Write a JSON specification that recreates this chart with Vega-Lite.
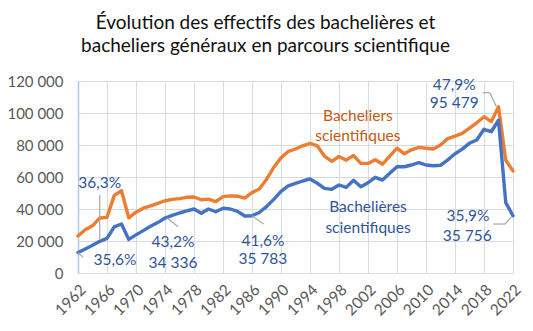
{
  "$schema": "https://vega.github.io/schema/vega-lite/v6.json",
  "autosize": "none",
  "width": 435,
  "height": 192,
  "padding": {"left": 78, "top": 81, "right": 20, "bottom": 58},
  "background": "white",
  "title": {
    "text": ["Évolution des effectifs des bachelières et", "bacheliers généraux en parcours scientifique"],
    "font": "Lato",
    "fontSize": 19,
    "fontWeight": "normal",
    "color": "#111111",
    "anchor": "middle",
    "dx": -30,
    "offset": 18,
    "lineHeight": 23
  },
  "config": {
    "view": {"stroke": null},
    "font": "Lato"
  },
  "datasets": {
    "series": [
      {"year": 1962, "femmes": 12800, "hommes": 23100},
      {"year": 1963, "femmes": 15000, "hommes": 27000},
      {"year": 1964, "femmes": 17300, "hommes": 29500},
      {"year": 1965, "femmes": 19800, "hommes": 34400},
      {"year": 1966, "femmes": 21600, "hommes": 34800},
      {"year": 1967, "femmes": 28800, "hommes": 48500},
      {"year": 1968, "femmes": 30600, "hommes": 51500},
      {"year": 1969, "femmes": 21000, "hommes": 34500},
      {"year": 1970, "femmes": 23800, "hommes": 38000},
      {"year": 1971, "femmes": 26500, "hommes": 40500},
      {"year": 1972, "femmes": 29200, "hommes": 42000},
      {"year": 1973, "femmes": 31500, "hommes": 43500},
      {"year": 1974, "femmes": 34336, "hommes": 45145},
      {"year": 1975, "femmes": 36000, "hommes": 46000},
      {"year": 1976, "femmes": 37500, "hommes": 46500},
      {"year": 1977, "femmes": 38800, "hommes": 47300},
      {"year": 1978, "femmes": 40000, "hommes": 47500},
      {"year": 1979, "femmes": 37300, "hommes": 45800},
      {"year": 1980, "femmes": 40000, "hommes": 46200},
      {"year": 1981, "femmes": 38300, "hommes": 44600},
      {"year": 1982, "femmes": 40500, "hommes": 47700},
      {"year": 1983, "femmes": 40000, "hommes": 48200},
      {"year": 1984, "femmes": 38500, "hommes": 48000},
      {"year": 1985, "femmes": 35600, "hommes": 46800},
      {"year": 1986, "femmes": 35783, "hommes": 50234},
      {"year": 1987, "femmes": 37800, "hommes": 52500},
      {"year": 1988, "femmes": 41500, "hommes": 58500},
      {"year": 1989, "femmes": 46000, "hommes": 66000},
      {"year": 1990, "femmes": 51000, "hommes": 72000},
      {"year": 1991, "femmes": 54400, "hommes": 76000},
      {"year": 1992, "femmes": 56000, "hommes": 77500},
      {"year": 1993, "femmes": 57500, "hommes": 79500},
      {"year": 1994, "femmes": 58800, "hommes": 81000},
      {"year": 1995, "femmes": 56100, "hommes": 79500},
      {"year": 1996, "femmes": 52900, "hommes": 73000},
      {"year": 1997, "femmes": 52300, "hommes": 69800},
      {"year": 1998, "femmes": 55000, "hommes": 72800},
      {"year": 1999, "femmes": 53500, "hommes": 70500},
      {"year": 2000, "femmes": 58000, "hommes": 73500},
      {"year": 2001, "femmes": 53900, "hommes": 68500},
      {"year": 2002, "femmes": 56400, "hommes": 68500},
      {"year": 2003, "femmes": 59800, "hommes": 70800},
      {"year": 2004, "femmes": 58100, "hommes": 68000},
      {"year": 2005, "femmes": 62300, "hommes": 73000},
      {"year": 2006, "femmes": 66400, "hommes": 78000},
      {"year": 2007, "femmes": 66400, "hommes": 74500},
      {"year": 2008, "femmes": 67500, "hommes": 77000},
      {"year": 2009, "femmes": 69000, "hommes": 78500},
      {"year": 2010, "femmes": 67500, "hommes": 78000},
      {"year": 2011, "femmes": 67000, "hommes": 77500},
      {"year": 2012, "femmes": 67300, "hommes": 80000},
      {"year": 2013, "femmes": 70700, "hommes": 84000},
      {"year": 2014, "femmes": 74500, "hommes": 85600},
      {"year": 2015, "femmes": 77400, "hommes": 87300},
      {"year": 2016, "femmes": 81200, "hommes": 90600},
      {"year": 2017, "femmes": 83100, "hommes": 93900},
      {"year": 2018, "femmes": 89800, "hommes": 97700},
      {"year": 2019, "femmes": 88300, "hommes": 94600},
      {"year": 2020, "femmes": 95479, "hommes": 103853},
      {"year": 2021, "femmes": 44000, "hommes": 70500},
      {"year": 2022, "femmes": 35756, "hommes": 63842}
    ],
    "leaders": [
      {"year": 1962, "value": 12800, "year2": 1962.7, "value2": 9800},
      {"year": 1965, "value": 20600, "year2": 1965, "value2": 48750},
      {"year": 1974.3, "value": 34336, "year2": 1975.8, "value2": 28900},
      {"year": 1986, "value": 35783, "year2": 1987.6, "value2": 30600},
      {"year": 2017.8, "value": 112700, "year2": 2018.8, "value2": 112700},
      {"year": 2018.8, "value": 112700, "year2": 2019.7, "value2": 104000},
      {"year": 2019.3, "value": 30600, "year2": 2020.9, "value2": 30600},
      {"year": 2020.9, "value": 30600, "year2": 2021.8, "value2": 35200}
    ],
    "labels": [
      {"year": 1965, "value": 56000, "text": "36,3%", "group": "f"},
      {"year": 1967.1, "value": 8100, "text": "35,6%", "group": "f"},
      {"year": 1975.1, "value": 19200, "text": "43,2%", "group": "f"},
      {"year": 1975.1, "value": 6400, "text": "34 336", "group": "f"},
      {"year": 1987.5, "value": 20200, "text": "41,6%", "group": "f"},
      {"year": 1987.5, "value": 9000, "text": "35 783", "group": "f"},
      {"year": 2013.9, "value": 117800, "text": "47,9%", "group": "f"},
      {"year": 2013.9, "value": 106000, "text": "95 479", "group": "f"},
      {"year": 2015.8, "value": 35800, "text": "35,9%", "group": "f"},
      {"year": 2015.7, "value": 23100, "text": "35 756", "group": "f"},
      {"year": 2002, "value": 41000, "text": "Bachelières", "group": "f"},
      {"year": 2002, "value": 28300, "text": "scientifiques", "group": "f"},
      {"year": 2000.6, "value": 98300, "text": "Bacheliers", "group": "m"},
      {"year": 2000.6, "value": 85600, "text": "scientifiques", "group": "m"}
    ]
  },
  "encoding": {
    "x": {
      "field": "year", "type": "quantitative",
      "scale": {"domain": [1962, 2022], "nice": false, "zero": false},
      "axis": {
        "title": null,
        "values": [1962, 1966, 1970, 1974, 1978, 1982, 1986, 1990, 1994, 1998, 2002, 2006, 2010, 2014, 2018, 2022],
        "format": "d",
        "labelAngle": -45,
        "labelFontSize": 15.5,
        "labelColor": "#595959",
        "labelPadding": 9,
        "labelOverlap": false,
        "labelBound": false,
        "labelFlush": false,
        "ticks": false,
        "domain": false,
        "grid": true,
        "gridColor": "#D6DCE6",
        "gridWidth": 1
      }
    },
    "y": {
      "field": "value", "type": "quantitative",
      "scale": {"domain": [0, 120000], "nice": false},
      "axis": {
        "title": null,
        "values": [0, 20000, 40000, 60000, 80000, 100000, 120000],
        "labelExpr": "replace(format(datum.value, ','), ',', ' ')",
        "labelFontSize": 15,
        "labelColor": "#595959",
        "labelPadding": 15,
        "labelOverlap": false,
        "labelFlush": false,
        "ticks": false,
        "domain": true,
        "domainColor": "#B4C7E7",
        "domainWidth": 1.5,
        "grid": true,
        "gridColor": "#D9D9D9",
        "gridWidth": 1
      }
    }
  },
  "layer": [
    {
      "data": {"name": "series"},
      "transform": [{"fold": ["hommes", "femmes"], "as": ["serie", "value"]}],
      "mark": {"type": "line", "strokeWidth": 3.4, "strokeJoin": "round", "strokeCap": "round"},
      "encoding": {
        "color": {
          "field": "serie", "type": "nominal",
          "scale": {"domain": ["femmes", "hommes"], "range": ["#4472C4", "#ED7D31"]},
          "legend": null
        },
        "order": {"field": "year"}
      }
    },
    {
      "data": {"name": "leaders"},
      "mark": {"type": "rule", "color": "#A6A6A6", "strokeWidth": 1.2},
      "encoding": {
        "x2": {"field": "year2"},
        "y2": {"field": "value2"}
      }
    },
    {
      "data": {"name": "labels"},
      "transform": [{"filter": "datum.group === 'f'"}],
      "mark": {"type": "text", "fontSize": 15.5, "color": "#2F5597", "align": "center", "baseline": "middle"},
      "encoding": {
        "text": {"field": "text"}
      }
    },
    {
      "data": {"name": "labels"},
      "transform": [{"filter": "datum.group === 'm'"}],
      "mark": {"type": "text", "fontSize": 15.5, "color": "#C55A11", "align": "center", "baseline": "middle"},
      "encoding": {
        "text": {"field": "text"}
      }
    }
  ]
}
